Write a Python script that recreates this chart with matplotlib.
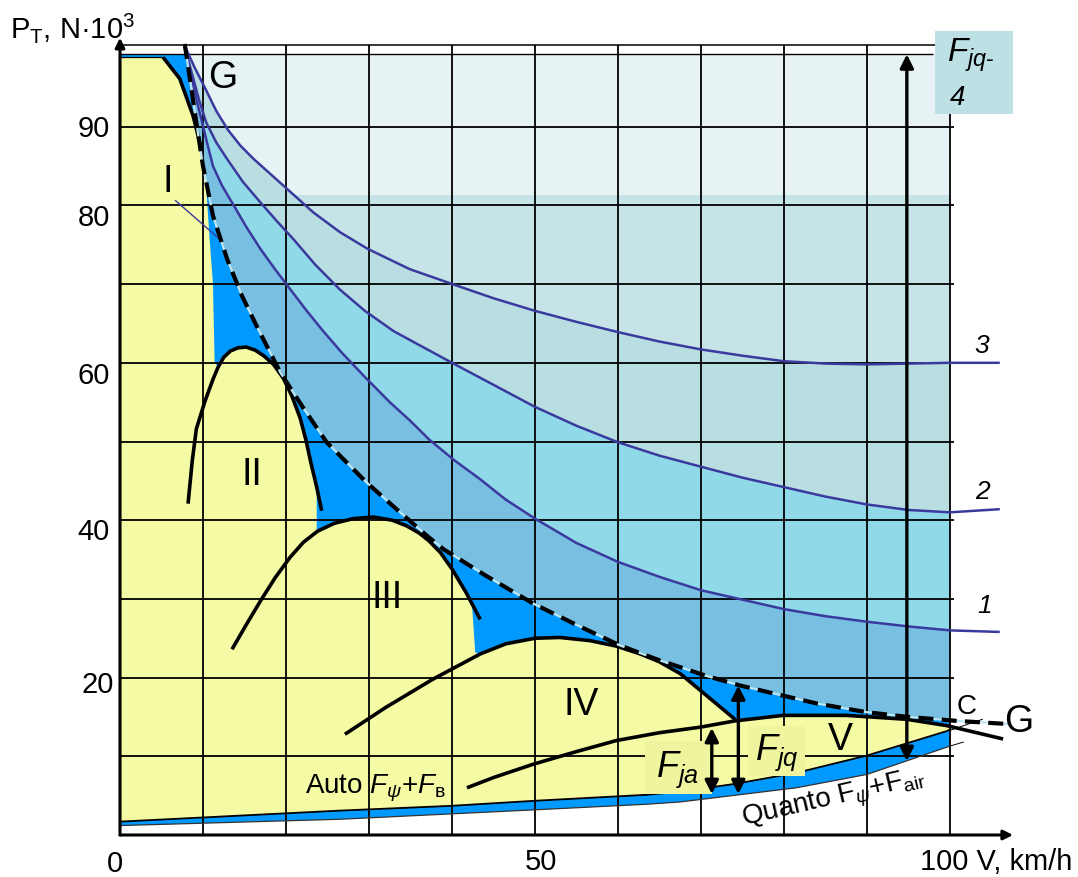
import numpy as np
import matplotlib.pyplot as plt
from matplotlib.patches import Rectangle

plt.rcParams['font.family'] = ['Liberation Sans', 'DejaVu Sans']
plt.rcParams['mathtext.fontset'] = 'custom'
plt.rcParams['mathtext.rm'] = 'Liberation Sans'
plt.rcParams['mathtext.it'] = 'Liberation Sans:italic'
plt.rcParams['mathtext.bf'] = 'Liberation Sans:bold'

# traction curves, V in km/h, P in N*10^3
c3_v = [7.7, 9.0, 10.3, 11.6, 13.0, 14.5, 16.1, 19.7, 23.3, 26.5, 29.8, 34.9, 40.6, 45.0, 50.0, 55.0, 60.0,
        65.0, 70.0, 75.0, 80.0, 85.0, 90.0, 95.0, 100.0, 106.0]
c3_p = [100.5, 97.5, 94.8, 92.0, 89.6, 87.6, 85.9, 82.5, 79.1, 76.6, 74.5, 71.9, 69.8, 68.2, 66.6, 65.2, 63.9,
        62.7, 61.7, 60.9, 60.2, 59.9, 59.8, 59.9, 60.0, 60.0]

c2_v = [7.7, 8.6, 9.5, 10.4, 11.6, 12.9, 14.8, 16.9, 18.9, 20.9, 23.5, 26.5, 29.5, 33.0, 36.5, 40.0, 45.0, 50.0,
        55.0, 60.0, 65.0, 70.0, 75.0, 80.0, 85.0, 90.0, 95.0, 100.0, 106.0]
c2_p = [100.5, 97.0, 93.5, 90.5, 88.0, 85.9, 83.0, 80.4, 78.0, 75.7, 72.5, 69.3, 66.6, 64.0, 62.0, 60.0, 57.2, 54.4,
        52.0, 49.9, 48.2, 46.8, 45.4, 44.2, 43.0, 42.0, 41.3, 41.0, 41.4]

c1_v = [7.7, 8.5, 9.2, 10.0, 10.6, 11.2, 12.3, 13.7, 15.2, 16.9, 18.6, 20.4, 22.5, 24.5, 26.8, 29.5, 32.5, 35.0,
        37.3, 40.3, 43.4, 46.5, 50.0, 55.0, 60.0, 65.0, 70.0, 75.0, 80.0, 85.0, 90.0, 95.0, 100.0, 106.0]
c1_p = [100.5, 97.0, 93.5, 90.1, 87.5, 85.0, 82.5, 80.0, 77.3, 74.5, 72.0, 69.5, 66.6, 64.0, 61.2, 58.2, 55.0, 52.6,
        50.2, 47.6, 45.2, 42.6, 40.2, 37.1, 34.7, 32.8, 31.1, 29.9, 28.7, 27.8, 27.1, 26.5, 26.0, 25.8]

# G - G limit (dashed)
gd_v = [7.8, 9.2, 10.0, 11.2, 12.9, 14.7, 16.5, 19.3, 22.0, 24.9, 29.7, 33.0, 37.0, 39.0, 44.0, 49.8, 55.0, 60.2,
        65.0, 70.7, 74.7, 78.3, 84.0, 90.0, 95.0, 100.8, 107.0]
gd_p = [100.5, 90.5, 85.0, 78.7, 73.2, 68.5, 64.6, 58.8, 54.4, 49.9, 44.8, 41.7, 38.0, 36.3, 33.0, 29.4, 26.7, 24.1,
        22.2, 20.2, 19.0, 18.1, 16.7, 15.6, 15.0, 14.5, 14.1]

# upper edge of the yellow zone
env_v = [0.0, 5.2, 7.2, 8.8, 9.8, 10.4, 10.8, 11.2, 11.4, 11.8, 12.5, 13.3, 14.2, 15.2, 16.3, 17.3, 18.5, 19.7,
         20.7, 21.7, 22.4, 23.0, 23.7, 23.7, 25.8, 28.1, 30.5, 32.8, 34.5, 36.0, 37.2, 38.6, 40.0, 41.7, 42.4,
         42.8, 43.4, 46.5, 50.0, 53.0, 56.6, 59.8, 62.7, 65.0, 67.5, 70.8, 74.1, 79.9, 87.5, 94.8, 99.6, 100.0]
env_p = [98.8, 98.8, 96.1, 91.4, 87.2, 82.1, 75.7, 70.0, 60.1, 59.4, 60.7, 61.5, 61.9, 62.0, 61.6, 60.9, 59.8, 58.0,
         55.8, 53.0, 50.2, 47.3, 44.2, 38.6, 39.6, 40.2, 40.4, 40.0, 39.3, 38.4, 37.4, 35.9, 33.8, 30.8, 29.4,
         23.2, 23.0, 24.3, 25.0, 25.1, 24.7, 24.0, 23.0, 22.0, 20.5, 17.6, 14.6, 15.2, 15.2, 14.7, 13.9, 13.5]

# gear characteristics I..V
g1_v = [5.2, 7.2, 8.8, 9.8]
g1_p = [98.8, 96.1, 91.4, 87.2]
g2_v = [8.2, 8.7, 9.2, 10.2, 11.2, 11.8, 12.5, 13.3, 14.2, 15.2, 16.3, 17.3, 18.5, 19.7, 20.7, 21.7, 22.4, 23.0,
        23.7, 24.3]
g2_p = [42.1, 47.5, 51.6, 55.0, 57.9, 59.4, 60.7, 61.5, 61.9, 62.0, 61.6, 60.9, 59.8, 58.0, 55.8, 53.0, 50.2, 47.3,
        44.2, 41.2]
g3_v = [13.5, 15.2, 16.9, 18.7, 20.5, 22.1, 23.8, 25.8, 28.1, 30.5, 32.8, 34.5, 36.0, 37.2, 38.6, 40.0, 41.7, 43.4]
g3_p = [23.6, 26.7, 29.7, 32.7, 35.3, 37.2, 38.6, 39.6, 40.2, 40.4, 40.0, 39.3, 38.4, 37.4, 35.9, 33.8, 30.8, 27.4]
g4_v = [27.1, 32.0, 37.7, 43.4, 46.5, 50.0, 53.0, 56.6, 59.8, 62.7, 65.0, 67.5, 70.8, 74.1]
g4_p = [12.8, 16.2, 19.8, 23.0, 24.3, 25.0, 25.1, 24.7, 24.0, 23.0, 22.0, 20.5, 17.6, 14.7]
g5_v = [41.8, 45.0, 49.8, 55.0, 59.8, 65.0, 69.9, 74.1, 79.9, 87.5, 94.8, 99.6, 106.4]
g5_p = [6.0, 7.3, 9.0, 10.6, 12.0, 13.0, 13.7, 14.5, 15.2, 15.2, 14.7, 13.9, 12.2]

# resistance lines
auto_v = [0.0, 26.5, 39.8, 50.0, 63.3, 67.5, 74.1, 81.5, 90.0, 99.6, 100.0]
auto_p = [1.7, 3.1, 3.7, 4.35, 5.1, 5.5, 6.5, 7.9, 10.1, 13.2, 13.4]
quanto_v = [0.0, 26.5, 50.0, 63.3, 67.5, 81.5, 90.0, 100.0]
quanto_p = [1.2, 2.0, 3.2, 3.9, 4.2, 6.0, 7.7, 11.3]

y_ticks = [90, 80, 60, 40, 20]
y_tick_pos = [89.8, 78.5, 58.5, 38.6, 19.2]

fig = plt.figure(figsize=(10.78, 8.78), dpi=100)
ax = fig.add_axes([0, 0, 1, 1])
ax.set_xlim(-120 / 8.3, (1078 - 120) / 8.3)
ax.set_ylim((836 - 878) / 7.87, 836 / 7.87)
ax.axis('off')

TOP = 99.2


def clip_rect():
    return Rectangle((0, 0), 100, TOP, transform=ax.transData)


def under(v, p, color):
    vv = [0] + list(v) + [v[-1], 0]
    pp = [p[0]] + list(p) + [0, 0]
    poly = ax.fill(vv, pp, color=color, lw=0, zorder=1)[0]
    poly.set_clip_path(clip_rect())


# background zones
ax.add_patch(Rectangle((0, 81.3), 100, TOP - 81.3, color='#E6F2F4', lw=0, zorder=0.5))
ax.add_patch(Rectangle((0, 0), 100, 81.3, color='#C6E4E7', lw=0, zorder=0.5))
under(c3_v, c3_p, '#B9DEE2')
under(c2_v, c2_p, '#90D9E8')
under(c1_v, c1_p, '#78BFE2')
under(gd_v, gd_p, '#0099FF')

# yellow zone
yv = list(env_v) + auto_v[::-1]
yp = list(env_p) + auto_p[::-1]
ax.fill(yv, yp, color='#F5FAA5', lw=0, zorder=1.2)

# resistance band
bv = auto_v + quanto_v[::-1]
bp = auto_p + quanto_p[::-1]
ax.fill(bv, bp, color='#0099FF', lw=0, zorder=1.3)
ax.fill(quanto_v + [100, 0], quanto_p + [0, 0], color='white', lw=0, zorder=1.3)

# grid
ax.hlines(range(10, 100, 10), 0, 100.5, color='black', lw=1.3, zorder=2)
ax.hlines(100.4, 0, 100, color='black', lw=1.1, zorder=2)
ax.hlines(TOP, 0, 98, color='black', lw=1.0, zorder=2)
ax.vlines(range(10, 101, 10), 0, 100.4, color='black', lw=1.3, zorder=2)

# axes with arrows
ax.annotate('', xy=(0, 101.3), xytext=(0, 0),
            arrowprops=dict(arrowstyle='-|>', lw=2.2, color='black', mutation_scale=14, shrinkA=0, shrinkB=0),
            zorder=4)
ax.annotate('', xy=(107.6, 0), xytext=(0, 0),
            arrowprops=dict(arrowstyle='-|>', lw=2.2, color='black', mutation_scale=14, shrinkA=0, shrinkB=0),
            zorder=4)

# traction hyperbolas
for v, p in [(c3_v, c3_p), (c2_v, c2_p), (c1_v, c1_p)]:
    ax.plot(v, p, color='#3A3A9E', lw=1.8, zorder=3, solid_capstyle='butt', solid_joinstyle='round')

# resistance lines
ax.plot(auto_v, auto_p, color='black', lw=1.3, zorder=3)
ax.plot(quanto_v, quanto_p, color='#333333', lw=0.9, zorder=3)
ax.plot([100, 103.9], [13.3, 14.7], color='black', lw=0.7, zorder=3)
ax.plot([100, 101.6], [11.3, 11.8], color='black', lw=0.7, zorder=3)

# gear curves
ax.plot([0, 5.2], [98.8, 98.8], color='black', lw=0.9, zorder=4)
for v, p in [(g1_v, g1_p), (g2_v, g2_p), (g3_v, g3_p), (g4_v, g4_p), (g5_v, g5_p)]:
    ax.plot(v, p, color='black', lw=2.6, zorder=4, solid_capstyle='butt', solid_joinstyle='round')

# G-G dashed limit
ax.plot(gd_v, gd_p, color='#BDE6F0', lw=1.6, zorder=4)
ax.plot(gd_v, gd_p, color='black', lw=3.0, dashes=(3.6, 2.0), zorder=4.1)

# pointer of gear I
ax.plot([6.7, 11.8], [80.6, 75.9], color='#3A3A9E', lw=1.0, zorder=4)

# boxes
ax.add_patch(Rectangle((63.25, 5.2), 8.05, 6.7, color='#EFF59E', lw=0, zorder=5))
ax.add_patch(Rectangle((75.7, 7.5), 6.8, 6.4, color='#EFF59E', lw=0, zorder=5))
ax.add_patch(Rectangle((98.2, 91.6), 9.4, 10.5, color='#BCE0E4', lw=0, zorder=5))

ax.text(67.2, 8.4, r'$F_{ja}$', fontsize=26, ha='center', va='center', zorder=6)
ax.text(79.1, 10.6, r'$F_{jq}$', fontsize=26, ha='center', va='center', zorder=6)
ax.text(99.6, 99.2, r'$F_{jq\text{-}}$', fontsize=24, ha='left', va='center', zorder=6)
ax.text(100.0, 93.8, '4', fontsize=20, style='italic', ha='left', va='center', zorder=6)

# arrows
arr = dict(arrowstyle='<|-|>', lw=2.4, color='black', mutation_scale=20, shrinkA=0, shrinkB=0)
ax.annotate('', xy=(71.3, 13.6), xytext=(71.3, 5.2), arrowprops=arr, zorder=7)
ax.annotate('', xy=(74.5, 19.0), xytext=(74.5, 5.2), arrowprops=arr, zorder=7)
ax.annotate('', xy=(94.8, 99.2), xytext=(94.8, 9.4), arrowprops=arr, zorder=7)

# zone labels
for s, x, y in [('G', 12.4, 96.3), ('I', 5.8, 83.1), ('II', 15.9, 45.9), ('III', 32.2, 30.2),
                ('IV', 55.6, 16.6), ('V', 86.8, 12.2), ('G', 108.3, 14.5)]:
    ax.text(x, y, s, fontsize=27, ha='center', va='center', zorder=6)
ax.text(102.0, 16.4, 'C', fontsize=20, ha='center', va='center', zorder=6)

for s, x, y in [('3', 103.8, 62.2), ('2', 103.9, 43.7), ('1', 104.2, 29.2)]:
    ax.text(x, y, s, fontsize=19, style='italic', ha='center', va='center', zorder=6)

ax.text(22.3, 6.1, 'Auto $F_\\psi$+$F_{\\mathrm{в}}$', fontsize=20, ha='left', va='center', zorder=6)
ax.text(86.0, 4.6, 'Quanto F$_\\psi$+F$_{\\mathrm{air}}$', fontsize=20, ha='center', va='center',
        rotation=13, rotation_mode='anchor', zorder=6)

# axis labels and ticks
for t, y in zip(y_ticks, y_tick_pos):
    ax.text(-0.7 if t == 20 else -1.2, y, str(t), fontsize=21, ha='right', va='center')
ax.text(-0.6, -3.5, '0', fontsize=21, ha='center', va='center')
ax.text(50.7, -3.3, '50', fontsize=21, ha='center', va='center')
ax.text(96.4, -3.3, '100 V, km/h', fontsize=21, ha='left', va='center')
ax.text(-13.3, 102.7, 'P$_\\mathrm{T}$, N·10$^3$', fontsize=21, ha='left', va='center')

fig.savefig('out.png', dpi=100)
